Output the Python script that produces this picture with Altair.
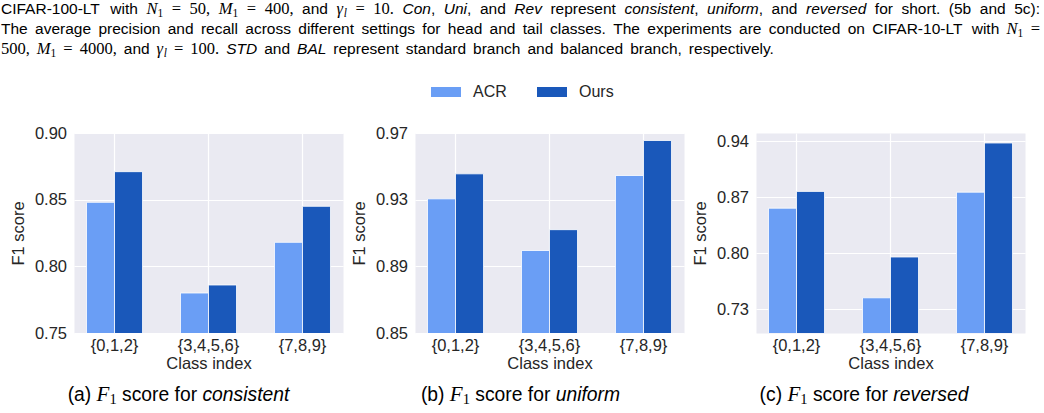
import altair as alt
import pandas as pd

# ---------------- data ----------------
groups = ["{0,1,2}", "{3,4,5,6}", "{7,8,9}"]
methods = ["ACR", "Ours"]
colors = ["#6A9EF5", "#1A58BA"]

acr_con = [0.848, 0.780, 0.818]
ours_con = [0.871, 0.786, 0.845]
acr_uni = [0.9305, 0.8995, 0.9445]
ours_uni = [0.9455, 0.9120, 0.9655]
acr_rev = [0.856, 0.744, 0.876]
ours_rev = [0.877, 0.795, 0.9375]

dom_con, ticks_con = [0.75, 0.90], [0.75, 0.80, 0.85, 0.90]
dom_uni, ticks_uni = [0.85, 0.97], [0.85, 0.89, 0.93, 0.97]
dom_rev, ticks_rev = [0.70, 0.95], [0.73, 0.80, 0.87, 0.94]

# ---------------- text metrics (Arial / Times approximations) ----------------
ARIAL = {" ": 278, "(": 333, ")": 333, ",": 278, "-": 333, ".": 278, ":": 278, "=": 584,
         "A": 667, "B": 667, "C": 722, "D": 722, "E": 667, "F": 611, "G": 778, "H": 722,
         "I": 278, "J": 500, "K": 667, "L": 556, "M": 833, "N": 722, "O": 778, "P": 667,
         "Q": 778, "R": 722, "S": 667, "T": 611, "U": 722, "V": 667, "W": 944, "X": 667,
         "Y": 667, "Z": 611, "a": 556, "b": 556, "c": 500, "d": 556, "e": 556, "f": 278,
         "g": 556, "h": 556, "i": 222, "j": 222, "k": 500, "l": 222, "m": 833, "n": 556,
         "o": 556, "p": 556, "q": 556, "r": 333, "s": 500, "t": 278, "u": 556, "v": 500,
         "w": 722, "x": 500, "y": 500, "z": 500}
for d in "0123456789":
    ARIAL[d] = 556
TIMES = {",": 250, ".": 250, "=": 564, " ": 250}
TIMES_I = {"N": 667, "M": 833, "F": 611, "l": 278, "γ": 440}

TABLE = {"rm": ARIAL, "it": ARIAL, "mr": TIMES, "sub": TIMES, "mi": TIMES_I, "subi": TIMES_I}
FONT = {"rm": ("Liberation Sans", "normal"), "it": ("Liberation Sans", "italic"),
        "mr": ("Liberation Serif", "normal"), "mi": ("Liberation Serif", "italic"),
        "sub": ("Liberation Serif", "normal"), "subi": ("Liberation Serif", "italic")}


def seg_w(t, s, sizes):
    tab = TABLE[s]
    return sum(tab.get(ch, 500) for ch in t) / 1000.0 * sizes[s]


def layout(words, x0, y, sizes, target=None, center=None):
    widths = [sum(seg_w(t, s, sizes) for t, s in w) for w in words]
    n = len(words)
    gap = 0.278 * sizes["rm"]
    if target is not None and n > 1:
        gap = (target - x0 - sum(widths)) / (n - 1)
    if center is not None:
        total = sum(widths) + gap * (n - 1)
        x0 = center - total / 2
    rows = []
    x = x0
    for w, wd in zip(words, widths):
        cx = x
        for t, s in w:
            dy = 0.2 * sizes["rm"] if s in ("sub", "subi") else 0
            rows.append({"px": cx, "py": y + dy, "t": t, "s": s})
            cx += seg_w(t, s, sizes)
        x += wd + gap
    return rows


def W(text, style="rm"):
    return [[(w, style)] for w in text.split()]


N1 = [("N", "mi"), ("1", "sub")]
M1 = [("M", "mi"), ("1", "sub")]
GL = [("γ", "mi"), ("l", "subi")]
EQ = [("=", "mr")]

line1 = (W("CIFAR-100-LT with") + [N1, EQ, [("50,", "mr")], M1, EQ, [("400,", "mr")]]
         + W("and") + [GL, EQ, [("10.", "mr")]]
         + [[("Con", "it"), (",", "rm")], [("Uni", "it"), (",", "rm")]] + W("and")
         + [[("Rev", "it")]] + W("represent")
         + [[("consistent", "it"), (",", "rm")], [("uniform", "it"), (",", "rm")]]
         + W("and") + [[("reversed", "it")]] + W("for short. (5b and 5c):"))
line2 = (W("The average precision and recall across different settings for head and tail "
           "classes. The experiments are conducted on CIFAR-10-LT with") + [N1, EQ])
line3 = ([[("500,", "mr")], M1, EQ, [("4000,", "mr")]] + W("and") + [GL, EQ, [("100.", "mr")]]
         + [[("STD", "it")]] + W("and") + [[("BAL", "it")]]
         + W("represent standard branch and balanced branch, respectively."))

# absolute page positions of panel (a)'s plot area (caption is drawn relative to it)
OX, OY = 73, 132

cap_sizes = {"rm": 15.5, "it": 15.5, "mi": 16.5, "mr": 16.5, "sub": 11.5, "subi": 11.5}
cap_rows = (layout(line1, 0, 13.3, cap_sizes, target=1039)
            + layout(line2, 0, 33.0, cap_sizes, target=1039)
            + layout(line3, 0, 52.5, cap_sizes, target=774))

sub_sizes = {"rm": 19.3, "it": 19.3, "mi": 21, "mr": 21, "sub": 14.5, "subi": 14.5}

TXT = "#262626"
one = pd.DataFrame({"d": [0]})


def text_marks(rows, sizes, dx=0, dy=0):
    out = []
    for r in rows:
        f, st = FONT[r["s"]]
        out.append(alt.Chart(one).mark_text(
            align="left", baseline="alphabetic", font=f, fontStyle=st,
            fontSize=sizes[r["s"]], color="black").encode(
            x=alt.value(r["px"] + dx), y=alt.value(r["py"] + dy), text=alt.value(r["t"])))
    return out


def panel(acr, ours, dom, ticks, letter, word, center, first=False):
    df = pd.DataFrame({"group": groups + groups,
                       "method": [methods[0]] * 3 + [methods[1]] * 3,
                       "value": acr + ours})
    bars = alt.Chart(df).mark_bar(stroke="white", strokeWidth=0.8, clip=True).encode(
        x=alt.X("group:N", sort=groups, title="Class index",
                scale=alt.Scale(paddingInner=0.404, paddingOuter=0.133),
                axis=alt.Axis(labelAngle=0, grid=True, bandPosition=0.5, gridColor="white",
                              gridWidth=1.2, domain=False, ticks=False, labelPadding=4,
                              titlePadding=2)),
        xOffset=alt.XOffset("method:N", sort=methods,
                            scale=alt.Scale(paddingInner=0, paddingOuter=0)),
        y=alt.Y("value:Q", title="F1 score",
                scale=alt.Scale(domain=dom, zero=False, nice=False),
                axis=alt.Axis(values=ticks, format=".2f", grid=True, gridColor="white",
                              gridWidth=1.2, domain=False, ticks=False, labelPadding=7.5,
                              titlePadding=8)),
        color=alt.Color("method:N", sort=methods,
                        scale=alt.Scale(domain=methods, range=colors),
                        legend=alt.Legend(title=None, orient="none",
                                          legendX=430 - OX, legendY=76 - OY,
                                          direction="horizontal",
                                          symbolType="M-1,-0.3333H1V0.3333H-1Z",
                                          symbolSize=900, symbolStrokeWidth=0,
                                          symbolOpacity=1, labelFontSize=16,
                                          labelFont="Liberation Sans", labelColor=TXT,
                                          labelOffset=12, columnPadding=30, padding=0)),
    )
    words = [[("(" + letter + ")", "rm")], [("F", "mi"), ("1", "sub")],
             [("score", "rm")], [("for", "rm")], [(word, "it")]]
    rows = layout(words, 0, 267.5, sub_sizes, center=center)
    layers = [bars] + text_marks(rows, sub_sizes)
    if first:
        # figure caption above the panels, placed relative to this panel
        layers += text_marks(cap_rows, cap_sizes, dx=-OX, dy=-OY)
        # invisible white anchor pinning the page's top-left corner
        layers.append(alt.Chart(one).mark_rule(color="white", strokeWidth=0.5).encode(
            x=alt.value(-OX), x2=alt.value(-OX + 1), y=alt.value(-OY)))
    return alt.layer(*layers).properties(
        width=269, height=200,
        view=alt.ViewBackground(fill="#EAEAF2", stroke="transparent"))


pa = panel(acr_con, ours_con, dom_con, ticks_con, "a", "consistent", 104.5, first=True)
pb = panel(acr_uni, ours_uni, dom_uni, ticks_uni, "b", "uniform", 105.5)
pc = panel(acr_rev, ours_rev, dom_rev, ticks_rev, "c", "reversed", 108)

chart = alt.hconcat(pa, pb, pc, spacing=72, bounds="flush").resolve_scale(
    color="shared").resolve_legend(color="shared").properties(
    padding=0, background="white").configure_view(stroke="transparent").configure_axis(
    labelFont="Liberation Sans", titleFont="Liberation Sans", labelFontSize=16.5,
    titleFontSize=16.5, labelColor=TXT, titleColor=TXT, titleFontWeight="normal")

chart.save("out.html", embed_options={"renderer": "svg", "actions": False})
